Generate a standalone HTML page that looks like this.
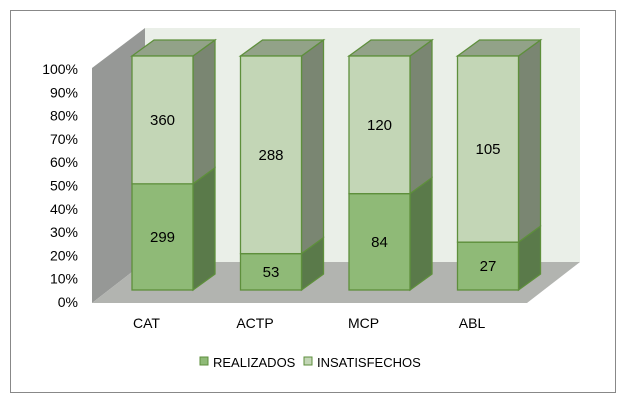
<!DOCTYPE html>
<html><head><meta charset="utf-8"><style>
body{margin:0;background:#fff;font-family:"Liberation Sans",sans-serif}
svg{display:block}
</style></head><body>
<svg id="c" width="636" height="400">
<rect x="10.5" y="10.5" width="605" height="382" fill="#fff" stroke="#888"/>
<polygon points="145,28 580,28 580,262 145,262" fill="#eaefe8"/>
<polygon points="92,68 145,28 145,262 92,303" fill="#969896"/>
<polygon points="92,303 145,262 580,262 527,303" fill="#b2b4b0"/>
<g id="ax"></g><g id="bars"></g>
<g>
<rect x="200" y="357" width="8" height="8" fill="#8fba77" stroke="#5e8f3c"/>
<text x="213" y="367" font-size="13">REALIZADOS</text>
<rect x="304" y="357" width="8" height="8" fill="#c3d6b6" stroke="#5e8f3c"/>
<text x="317" y="367" font-size="13">INSATISFECHOS</text>
</g>
</svg>
<script>
const categories=["CAT","ACTP","MCP","ABL"];
const realizados=[299,53,84,27];
const insatisfechos=[360,288,120,105];
const ticks=["0%","10%","20%","30%","40%","50%","60%","70%","80%","90%","100%"];
const NS="http://www.w3.org/2000/svg";
const y0=290,H=234,dx=22,dy=16,w=61,x0=132,step=108.5;
const yv=f=>y0-f*H;
function mk(t,a,p){const e=document.createElementNS(NS,t);for(const k in a)e.setAttribute(k,a[k]);p.appendChild(e);return e;}
const ax=document.getElementById('ax');
ticks.forEach((t,i)=>{
 const e=mk('text',{x:78,y:302-i*23.3+5,'font-size':14,'text-anchor':'end'},ax);
 e.textContent=t;
 
 
});
const bars=document.getElementById('bars');
categories.forEach((c,i)=>{
 const tot=realizados[i]+insatisfechos[i];
 const x=x0+i*step,ys=yv(realizados[i]/tot),yt=yv(1);
 const g=mk('g',{},bars);
 
 
 const st={stroke:'#5e8f3c','stroke-width':1.3};
 mk('polygon',Object.assign({points:`${x+w},${y0} ${x+w+dx},${y0-dy} ${x+w+dx},${ys-dy} ${x+w},${ys}`,fill:'#5a7a4a'},st),g);
 mk('polygon',Object.assign({points:`${x+w},${ys} ${x+w+dx},${ys-dy} ${x+w+dx},${yt-dy} ${x+w},${yt}`,fill:'#7a8672'},st),g);
 mk('polygon',Object.assign({points:`${x},${yt} ${x+dx},${yt-dy} ${x+w+dx},${yt-dy} ${x+w},${yt}`,fill:'#92a288'},st),g);
 const r1=mk('rect',Object.assign({x:x,y:ys,width:w,height:y0-ys,fill:'#8fba77'},st),g);
 
 
 const r2=mk('rect',Object.assign({x:x,y:yt,width:w,height:ys-yt,fill:'#c3d6b6'},st),g);
 
 
 const l1=mk('text',{x:x+w/2,y:(y0+ys)/2+5,'font-size':15,'text-anchor':'middle'},g);
 l1.textContent=realizados[i];
 
 
 const l2=mk('text',{x:x+w/2,y:(ys+yt)/2+5,'font-size':15,'text-anchor':'middle'},g);
 l2.textContent=insatisfechos[i];
 
 
 const cl=mk('text',{x:x+w/2-16,y:328,'font-size':14,'text-anchor':'middle'},ax);
 cl.textContent=c;
 
 
});
</script>
</body></html>
